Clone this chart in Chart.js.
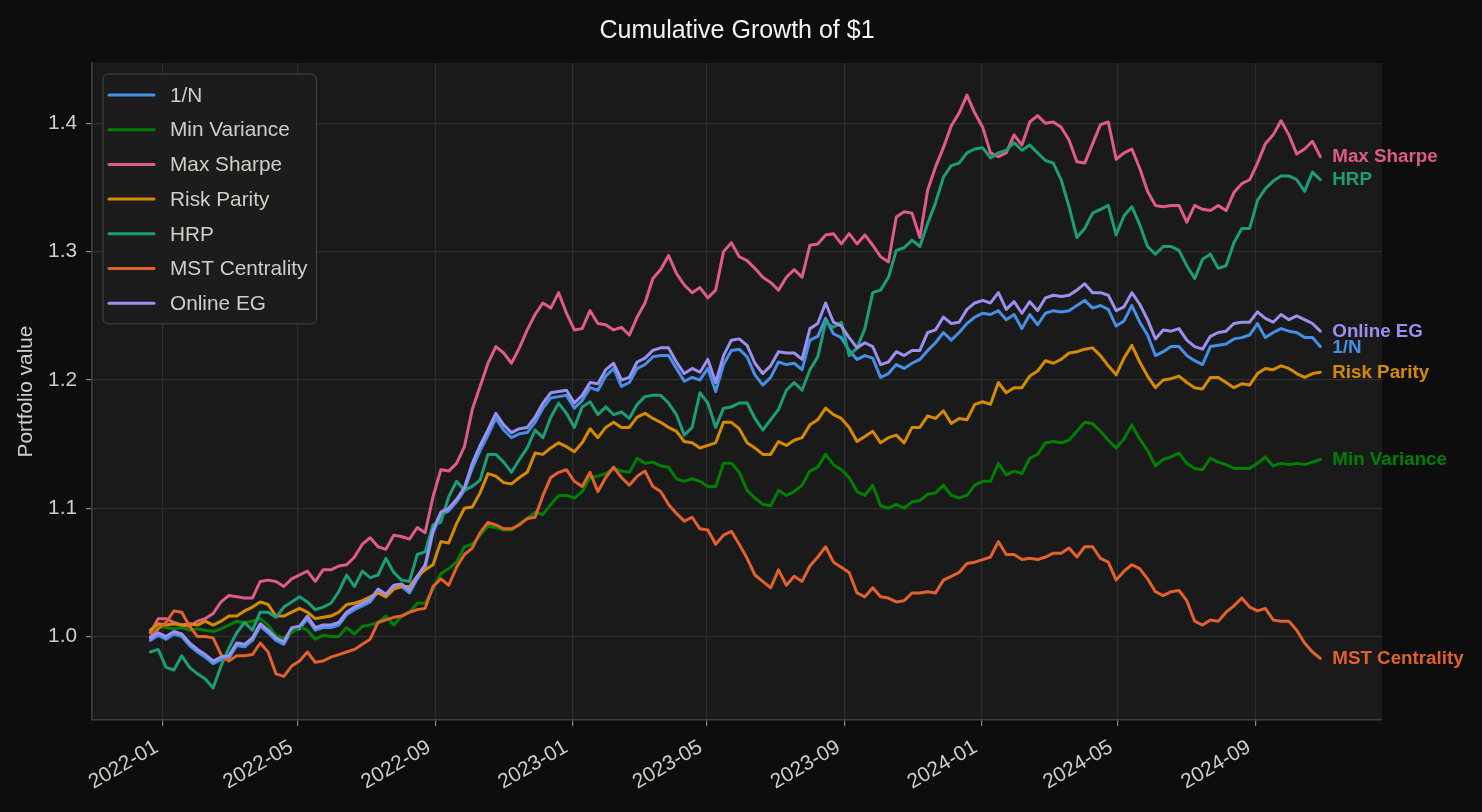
<!DOCTYPE html>
<html>
<head>
<meta charset="utf-8">
<title>Cumulative Growth of $1</title>
<script src="https://cdn.jsdelivr.net/npm/chart.js@4.4.1/dist/chart.umd.min.js"></script>
<style>
  html, body { margin: 0; padding: 0; background: #0d0d0d; }
  #wrap { width: 1482px; height: 812px; }
</style>
</head>
<body>
<div id="wrap"><canvas id="growthChart" width="1482" height="812"></canvas></div>
<script>
// --- Data (weekly samples) ---
const START_DATE = '2021-12-21';
const STEP_DAYS = 7;

const CHART_TITLE = 'Cumulative Growth of $1';
const SERIES_NAMES = ['1/N', 'Min Variance', 'Max Sharpe', 'Risk Parity', 'HRP', 'MST Centrality', 'Online EG'];
const SERIES_COLORS = ['#4590e6', '#008000', '#e05a8c', '#d68a00', '#1b9e77', '#e2612d', '#9b8ff0'];

const ONE_N = [
  0.997, 1.001, 0.998, 1.002, 1.000, 0.993, 0.988, 0.984, 0.979, 0.982,
  0.983, 0.993, 0.992, 0.997, 1.008, 1.003, 0.997, 0.994, 1.005, 1.006,
  1.014, 1.005, 1.007, 1.007, 1.009, 1.017, 1.021, 1.024, 1.027, 1.035,
  1.031, 1.038, 1.039, 1.034, 1.045, 1.054, 1.081, 1.095, 1.098, 1.105,
  1.114, 1.131, 1.145, 1.157, 1.170, 1.161, 1.155, 1.158, 1.159, 1.167,
  1.178, 1.186, 1.187, 1.188, 1.178, 1.184, 1.194, 1.192, 1.203, 1.209,
  1.195, 1.198, 1.209, 1.212, 1.218, 1.219, 1.219, 1.209, 1.199, 1.202,
  1.200, 1.209, 1.191, 1.212, 1.223, 1.224, 1.218, 1.204, 1.196, 1.202,
  1.214, 1.212, 1.213, 1.208, 1.231, 1.234, 1.248, 1.236, 1.233, 1.223,
  1.216, 1.219, 1.217, 1.202, 1.205, 1.212, 1.209, 1.213, 1.216, 1.223,
  1.229, 1.237, 1.231, 1.237, 1.244, 1.249, 1.252, 1.251, 1.254, 1.247,
  1.251, 1.240, 1.251, 1.243, 1.252, 1.254, 1.253, 1.254, 1.258, 1.262,
  1.256, 1.258, 1.255, 1.242, 1.246, 1.258, 1.245, 1.235, 1.219, 1.222,
  1.226, 1.226, 1.219, 1.215, 1.212, 1.226, 1.227, 1.228, 1.232, 1.233,
  1.235, 1.244, 1.233, 1.237, 1.240, 1.238, 1.237, 1.233, 1.233, 1.226
];

const MIN_VARIANCE = [
  1.003, 1.008, 1.007, 1.006, 1.007, 1.005, 1.006, 1.005, 1.004, 1.006,
  1.009, 1.012, 1.011, 1.012, 1.014, 1.009, 1.001, 0.999, 1.003, 1.008,
  1.005, 0.998, 1.001, 1.000, 1.000, 1.007, 1.002, 1.008, 1.009, 1.011,
  1.016, 1.009, 1.016, 1.019, 1.026, 1.026, 1.037, 1.049, 1.053, 1.058,
  1.070, 1.072, 1.079, 1.086, 1.085, 1.083, 1.083, 1.088, 1.092, 1.097,
  1.095, 1.103, 1.110, 1.110, 1.108, 1.113, 1.124, 1.125, 1.127, 1.131,
  1.129, 1.128, 1.139, 1.135, 1.136, 1.133, 1.132, 1.123, 1.121, 1.123,
  1.121, 1.117, 1.117, 1.135, 1.135, 1.128, 1.114, 1.108, 1.103, 1.102,
  1.114, 1.110, 1.113, 1.118, 1.129, 1.132, 1.142, 1.134, 1.130, 1.124,
  1.113, 1.110, 1.118, 1.102, 1.100, 1.103, 1.100, 1.105, 1.106, 1.111,
  1.112, 1.118, 1.110, 1.108, 1.110, 1.118, 1.121, 1.121, 1.135, 1.126,
  1.129, 1.127, 1.139, 1.142, 1.151, 1.152, 1.151, 1.153, 1.160, 1.167,
  1.166, 1.160, 1.153, 1.147, 1.154, 1.165, 1.154, 1.145, 1.133, 1.138,
  1.140, 1.143, 1.135, 1.131, 1.130, 1.139, 1.136, 1.134, 1.131, 1.131,
  1.131, 1.135, 1.140, 1.133, 1.135, 1.134, 1.135, 1.134, 1.136, 1.138
];

const MAX_SHARPE = [
  1.003, 1.014, 1.014, 1.011, 1.009, 1.008, 1.012, 1.014, 1.018, 1.027,
  1.032, 1.031, 1.030, 1.030, 1.043, 1.044, 1.043, 1.039, 1.045, 1.048,
  1.051, 1.043, 1.052, 1.052, 1.055, 1.056, 1.062, 1.072, 1.077, 1.070,
  1.068, 1.079, 1.078, 1.076, 1.085, 1.081, 1.109, 1.130, 1.129, 1.135,
  1.148, 1.177, 1.195, 1.213, 1.226, 1.221, 1.213, 1.225, 1.239, 1.251,
  1.260, 1.256, 1.268, 1.252, 1.239, 1.240, 1.254, 1.244, 1.243, 1.239,
  1.241, 1.235, 1.249, 1.260, 1.279, 1.286, 1.297, 1.283, 1.274, 1.268,
  1.272, 1.264, 1.270, 1.300, 1.307, 1.296, 1.293, 1.287, 1.280, 1.276,
  1.270, 1.280, 1.286, 1.280, 1.305, 1.306, 1.313, 1.314, 1.306, 1.314,
  1.306, 1.313, 1.305, 1.296, 1.292, 1.327, 1.331, 1.330, 1.311, 1.348,
  1.366, 1.381, 1.398, 1.408, 1.422, 1.408, 1.397, 1.377, 1.374, 1.377,
  1.391, 1.383, 1.401, 1.406, 1.400, 1.401, 1.397, 1.387, 1.370, 1.369,
  1.384, 1.399, 1.401, 1.372, 1.377, 1.380, 1.365, 1.347, 1.336, 1.335,
  1.336, 1.336, 1.323, 1.336, 1.333, 1.332, 1.336, 1.332, 1.346, 1.353,
  1.356, 1.369, 1.384, 1.391, 1.402, 1.391, 1.376, 1.380, 1.386, 1.374
];

const RISK_PARITY = [
  1.005, 1.010, 1.009, 1.010, 1.009, 1.010, 1.009, 1.012, 1.009, 1.012,
  1.016, 1.016, 1.020, 1.023, 1.027, 1.025, 1.016, 1.016, 1.019, 1.022,
  1.019, 1.014, 1.015, 1.016, 1.019, 1.025, 1.026, 1.028, 1.031, 1.034,
  1.031, 1.037, 1.039, 1.039, 1.047, 1.052, 1.056, 1.074, 1.073, 1.088,
  1.100, 1.101, 1.112, 1.127, 1.125, 1.120, 1.119, 1.124, 1.128, 1.143,
  1.142, 1.147, 1.151, 1.148, 1.144, 1.151, 1.162, 1.155, 1.163, 1.167,
  1.163, 1.163, 1.171, 1.174, 1.170, 1.167, 1.163, 1.160, 1.152, 1.151,
  1.147, 1.149, 1.151, 1.167, 1.167, 1.162, 1.151, 1.147, 1.142, 1.142,
  1.152, 1.149, 1.153, 1.155, 1.165, 1.169, 1.178, 1.173, 1.170, 1.163,
  1.152, 1.156, 1.160, 1.151, 1.155, 1.157, 1.151, 1.163, 1.163, 1.172,
  1.170, 1.176, 1.166, 1.170, 1.169, 1.181, 1.183, 1.181, 1.198, 1.190,
  1.194, 1.194, 1.203, 1.207, 1.215, 1.213, 1.216, 1.221, 1.222, 1.224,
  1.225, 1.219, 1.211, 1.204, 1.217, 1.227, 1.214, 1.203, 1.194, 1.200,
  1.201, 1.203, 1.198, 1.194, 1.193, 1.202, 1.202, 1.198, 1.194, 1.197,
  1.196, 1.205, 1.209, 1.208, 1.211, 1.209, 1.205, 1.202, 1.205, 1.206
];

const HRP = [
  0.988, 0.990, 0.976, 0.974, 0.985, 0.976, 0.971, 0.967, 0.960, 0.977,
  0.991, 1.003, 1.011, 1.005, 1.019, 1.019, 1.015, 1.023, 1.027, 1.031,
  1.027, 1.021, 1.023, 1.026, 1.035, 1.048, 1.039, 1.051, 1.046, 1.048,
  1.061, 1.050, 1.044, 1.043, 1.064, 1.066, 1.087, 1.089, 1.109, 1.121,
  1.114, 1.117, 1.122, 1.142, 1.142, 1.136, 1.128, 1.138, 1.147, 1.161,
  1.155, 1.171, 1.182, 1.174, 1.163, 1.179, 1.183, 1.173, 1.179, 1.173,
  1.175, 1.170, 1.181, 1.187, 1.188, 1.188, 1.182, 1.173, 1.157, 1.163,
  1.190, 1.182, 1.163, 1.178, 1.179, 1.182, 1.182, 1.170, 1.161, 1.169,
  1.177, 1.192, 1.198, 1.192, 1.208, 1.218, 1.245, 1.241, 1.245, 1.219,
  1.225, 1.240, 1.268, 1.270, 1.280, 1.301, 1.303, 1.309, 1.304, 1.322,
  1.338, 1.358, 1.367, 1.369, 1.377, 1.380, 1.381, 1.373, 1.377, 1.379,
  1.385, 1.379, 1.383, 1.377, 1.371, 1.369, 1.356, 1.335, 1.311, 1.318,
  1.330, 1.333, 1.336, 1.313, 1.328, 1.335, 1.321, 1.304, 1.298, 1.304,
  1.304, 1.301, 1.289, 1.279, 1.294, 1.298, 1.287, 1.289, 1.307, 1.318,
  1.318, 1.340, 1.349, 1.355, 1.359, 1.359, 1.356, 1.347, 1.362, 1.356
];

const MST_CENTRALITY = [
  1.000, 1.006, 1.011, 1.020, 1.019, 1.008, 1.000, 1.000, 0.999, 0.986,
  0.981, 0.985, 0.985, 0.986, 0.995, 0.988, 0.971, 0.969, 0.977, 0.981,
  0.988, 0.980, 0.981, 0.984, 0.986, 0.988, 0.990, 0.994, 0.998, 1.011,
  1.013, 1.015, 1.016, 1.019, 1.021, 1.022, 1.039, 1.045, 1.040, 1.054,
  1.064, 1.069, 1.081, 1.089, 1.087, 1.084, 1.084, 1.087, 1.092, 1.093,
  1.110, 1.124, 1.128, 1.130, 1.121, 1.117, 1.128, 1.113, 1.124, 1.132,
  1.124, 1.118, 1.125, 1.129, 1.117, 1.113, 1.103, 1.096, 1.090, 1.093,
  1.084, 1.083, 1.072, 1.079, 1.082, 1.072, 1.061, 1.048, 1.043, 1.038,
  1.052, 1.040, 1.047, 1.043, 1.055, 1.062, 1.070, 1.058, 1.054, 1.050,
  1.034, 1.031, 1.038, 1.031, 1.030, 1.027, 1.028, 1.034, 1.034, 1.035,
  1.034, 1.044, 1.047, 1.050, 1.057, 1.058, 1.060, 1.062, 1.074, 1.064,
  1.064, 1.060, 1.061, 1.060, 1.062, 1.065, 1.065, 1.069, 1.062, 1.070,
  1.070, 1.061, 1.058, 1.044, 1.051, 1.056, 1.053, 1.045, 1.035, 1.032,
  1.035, 1.036, 1.028, 1.012, 1.009, 1.013, 1.012, 1.019, 1.024, 1.030,
  1.023, 1.020, 1.022, 1.013, 1.012, 1.012, 1.005, 0.995, 0.988, 0.983
];

const ONLINE_EG = [
  0.999, 1.003, 1.000, 1.004, 1.002, 0.995, 0.990, 0.986, 0.981, 0.984,
  0.985, 0.995, 0.994, 0.999, 1.010, 1.005, 0.999, 0.996, 1.007, 1.008,
  1.016, 1.007, 1.009, 1.009, 1.011, 1.019, 1.023, 1.026, 1.029, 1.037,
  1.033, 1.040, 1.041, 1.036, 1.047, 1.056, 1.083, 1.097, 1.100, 1.107,
  1.116, 1.135, 1.149, 1.161, 1.174, 1.165, 1.159, 1.162, 1.163, 1.171,
  1.182, 1.190, 1.191, 1.192, 1.182, 1.188, 1.198, 1.197, 1.208, 1.213,
  1.200, 1.202, 1.214, 1.217, 1.223, 1.225, 1.225, 1.214, 1.205, 1.209,
  1.206, 1.216, 1.198, 1.219, 1.231, 1.232, 1.227, 1.213, 1.205, 1.211,
  1.222, 1.221, 1.221, 1.216, 1.240, 1.244, 1.260, 1.245, 1.242, 1.233,
  1.225, 1.229, 1.226, 1.212, 1.214, 1.222, 1.219, 1.223, 1.223, 1.237,
  1.239, 1.249, 1.244, 1.245, 1.255, 1.260, 1.262, 1.260, 1.268, 1.255,
  1.261, 1.252, 1.261, 1.254, 1.264, 1.266, 1.265, 1.266, 1.270, 1.275,
  1.268, 1.268, 1.266, 1.254, 1.257, 1.268, 1.259, 1.247, 1.232, 1.239,
  1.238, 1.240, 1.231, 1.226, 1.224, 1.234, 1.237, 1.238, 1.244, 1.245,
  1.245, 1.253, 1.248, 1.245, 1.251, 1.247, 1.250, 1.247, 1.244, 1.238
];

const Y_TICKS = [1.0, 1.1, 1.2, 1.3, 1.4];
const X_TICK_MONTHS = ['2022-01', '2022-05', '2022-09', '2023-01', '2023-05', '2023-09', '2024-01', '2024-05', '2024-09'];

// axis window (matches the reference's margins)
const X_MIN_DATE = '2021-10-30';
const X_MAX_DATE = '2024-12-23';
const Y_MIN = 0.935;
const Y_MAX = 1.447;

// --- Helpers ---
const DAY_MS = 86400000;
const dayNum = (iso) => Date.parse(iso) / DAY_MS;
const fmtMonth = (day) => new Date(day * DAY_MS).toISOString().slice(0, 7);

const startDay = dayNum(START_DATE);
const DATES = ONE_N.map((_, i) => startDay + i * STEP_DAYS);

const SERIES_VALUES = [ONE_N, MIN_VARIANCE, MAX_SHARPE, RISK_PARITY, HRP, MST_CENTRALITY, ONLINE_EG];

const FONT = '"Liberation Sans", Arial, Helvetica, sans-serif';
const TEXT_COLOR = '#cfcfc7';

// Background: dark figure + slightly lighter axes face, plus the figure title
const backgroundPlugin = {
    id: 'darkBackground',
    beforeDraw(chart) {
        const { ctx, chartArea } = chart;
        ctx.save();
        ctx.fillStyle = '#0d0d0d';
        ctx.fillRect(0, 0, chart.width, chart.height);
        ctx.fillStyle = '#1a1a1a';
        ctx.fillRect(chartArea.left, chartArea.top, chartArea.right - chartArea.left, chartArea.bottom - chartArea.top);
        // suptitle is centred on the whole figure, not the axes
        ctx.fillStyle = '#f4f4f4';
        ctx.font = `25px ${FONT}`;
        ctx.textAlign = 'center';
        ctx.textBaseline = 'middle';
        ctx.fillText(CHART_TITLE, chart.width / 2 - 4, 31);
        ctx.restore();
    }
};

// Legend drawn inside the plot, upper left (like matplotlib)
const innerLegendPlugin = {
    id: 'innerLegend',
    afterDraw(chart) {
        const { ctx, chartArea } = chart;
        const left = chartArea.left + 11;
        const top = chartArea.top + 11;
        const rowH = 34.7;
        ctx.save();
        ctx.font = `20.8px ${FONT}`;
        let maxW = 0;
        chart.data.datasets.forEach(ds => { maxW = Math.max(maxW, ctx.measureText(ds.label).width); });
        const w = 67 + maxW + 9;
        const h = rowH * chart.data.datasets.length + 7;

        ctx.beginPath();
        ctx.roundRect(left, top, w, h, 5);
        ctx.fillStyle = 'rgba(28,28,28,0.95)';
        ctx.fill();
        ctx.strokeStyle = '#444444';
        ctx.lineWidth = 1;
        ctx.stroke();

        chart.data.datasets.forEach((ds, i) => {
            const cy = top + 21 + i * rowH;
            ctx.beginPath();
            ctx.moveTo(left + 6, cy);
            ctx.lineTo(left + 51, cy);
            ctx.strokeStyle = ds.borderColor;
            ctx.lineWidth = 3;
            ctx.lineCap = 'round';
            ctx.stroke();
            ctx.fillStyle = TEXT_COLOR;
            ctx.textAlign = 'left';
            ctx.textBaseline = 'middle';
            ctx.fillText(ds.label, left + 67, cy + 1);
        });
        ctx.restore();
    }
};

// Series names written at the end of each line
const endLabelsPlugin = {
    id: 'endLabels',
    afterDatasetsDraw(chart) {
        const { ctx } = chart;
        const items = chart.data.datasets.map((ds, i) => {
            const pts = chart.getDatasetMeta(i).data;
            const last = pts[pts.length - 1];
            return { text: ds.label, color: ds.borderColor, x: last.x + 12, y: last.y + 0.5 };
        });
        // keep labels from colliding
        const sorted = [...items].sort((a, b) => a.y - b.y);
        for (let k = 1; k < sorted.length; k++) {
            if (sorted[k].y - sorted[k - 1].y < 16) sorted[k].y = sorted[k - 1].y + 16;
        }
        ctx.save();
        ctx.font = `bold 18.75px ${FONT}`;
        ctx.textAlign = 'left';
        ctx.textBaseline = 'middle';
        items.forEach(it => {
            ctx.fillStyle = it.color;
            ctx.fillText(it.text, it.x, it.y);
        });
        ctx.restore();
    }
};

const datasets = SERIES_NAMES.map((name, i) => ({
    label: name,
    data: SERIES_VALUES[i].map((v, k) => ({ x: DATES[k], y: v })),
    borderColor: SERIES_COLORS[i],
    backgroundColor: SERIES_COLORS[i],
    borderWidth: 3,
    pointRadius: 0,
    tension: 0,
    borderJoinStyle: 'round',
    borderCapStyle: 'round',
    order: SERIES_NAMES.length - i   // later series drawn on top
}));

new Chart(document.getElementById('growthChart'), {
    type: 'line',
    data: { datasets },
    options: {
        responsive: false,
        animation: false,
        devicePixelRatio: 1,
        layout: { padding: { left: 0, right: 100, top: 63, bottom: 0 } },
        plugins: {
            legend: { display: false },
            tooltip: { enabled: false },
            title: { display: false }
        },
        scales: {
            x: {
                type: 'linear',
                min: dayNum(X_MIN_DATE),
                max: dayNum(X_MAX_DATE),
                afterBuildTicks: (scale) => { scale.ticks = X_TICK_MONTHS.map(m => ({ value: dayNum(m + '-01') })); },
                afterFit: (scale) => { scale.height = 92; },
                ticks: {
                    callback: (v) => fmtMonth(v),
                    color: TEXT_COLOR,
                    font: { family: FONT, size: 20.8 },
                    maxRotation: 30,
                    minRotation: 30,
                    autoSkip: false,
                    padding: 9,
                    labelOffset: -6
                },
                grid: { color: '#2f2f2f', lineWidth: 1.2, tickColor: '#8a8a8a', tickLength: 6, drawTicks: true },
                border: { display: true, color: '#3e3e3e', width: 1.6 }
            },
            y: {
                min: Y_MIN,
                max: Y_MAX,
                afterBuildTicks: (scale) => { scale.ticks = Y_TICKS.map(v => ({ value: v })); },
                afterFit: (scale) => { scale.width = 92; },
                ticks: {
                    callback: (v) => v.toFixed(1),
                    color: TEXT_COLOR,
                    font: { family: FONT, size: 20.8 },
                    padding: 9
                },
                title: {
                    display: true,
                    text: 'Portfolio value',
                    color: TEXT_COLOR,
                    font: { family: FONT, size: 20.8 },
                    padding: { top: 14, bottom: 0 }
                },
                grid: { color: '#2f2f2f', lineWidth: 1.2, tickColor: '#8a8a8a', tickLength: 6, drawTicks: true },
                border: { display: true, color: '#3e3e3e', width: 1.6 }
            }
        }
    },
    plugins: [backgroundPlugin, innerLegendPlugin, endLabelsPlugin]
});
</script>
</body>
</html>
